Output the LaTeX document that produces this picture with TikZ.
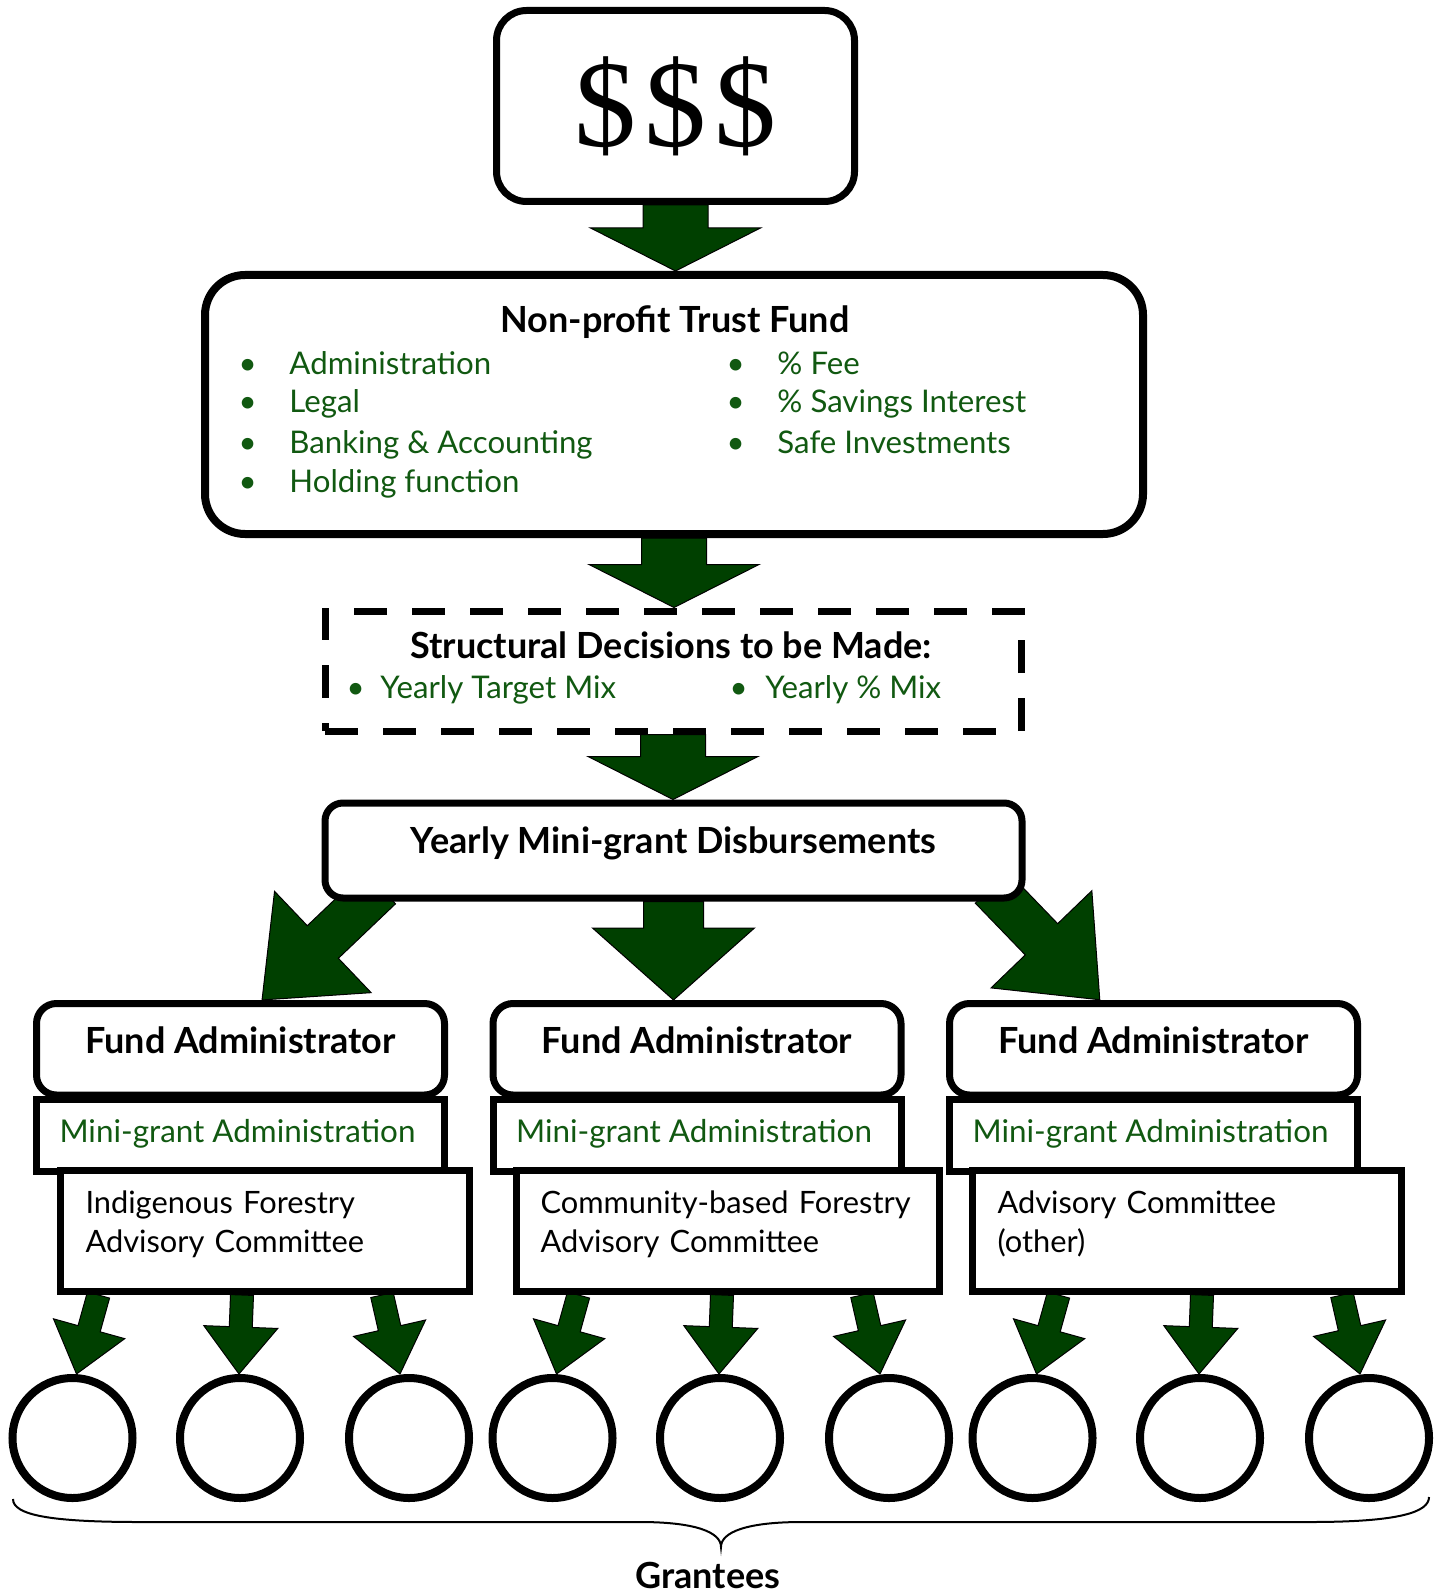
\documentclass[tikz,border=0pt]{standalone}
\usepackage{fontspec}
\setmainfont{Lato}
\newfontfamily\dollarfont{Liberation Serif}
\usepackage{tikz}
\usetikzlibrary{calc,positioning}
\pgfdeclarelayer{edgelayer}
\pgfsetlayers{edgelayer,main}
\definecolor{leafgreen}{RGB}{17,89,17}
\definecolor{arrowgreen}{RGB}{0,64,0}
\tikzset{every picture/.style={line width=3.5pt}}
\tikzstyle{box}=[draw,fill=white,inner sep=0pt]
\tikzstyle{moneybox}=[box,rounded corners=15pt,minimum width=179pt,minimum height=95.5pt]
\tikzstyle{trustbox}=[box,line width=4pt,rounded corners=20pt,minimum width=469pt,minimum height=129.5pt]
\tikzstyle{decisionbox}=[box,dash pattern=on 16.5pt off 12.5pt,minimum width=348pt,minimum height=60pt]
\tikzstyle{yearbox}=[box,rounded corners=9pt,minimum width=348.5pt,minimum height=47.5pt,font=\bfseries\fontsize{18}{21}\selectfont,text height=14pt,text depth=11.5pt]
\tikzstyle{fundbox}=[box,rounded corners=10pt,minimum width=204pt,minimum height=45.75pt,font=\bfseries\fontsize{18}{21}\selectfont,text height=14pt,text depth=10.25pt]
\tikzstyle{minibox}=[box,minimum width=204pt,minimum height=36pt,text=leafgreen,font=\fontsize{15.7}{19.5}\selectfont,text height=12pt,text depth=5pt]
\tikzstyle{advbox}=[box,minimum height=60.5pt]
\tikzstyle{advtext}=[anchor=base west,inner sep=0pt,text width=205pt,align=left,font=\fontsize{15.4}{19.5}\selectfont]
\tikzstyle{titletext}=[anchor=base,inner sep=0pt,font=\bfseries\fontsize{18}{21}\selectfont]
\tikzstyle{listitem}=[anchor=base west,inner sep=0pt,text=leafgreen,font=\fontsize{15.6}{19.5}\selectfont]
\tikzstyle{grantee}=[circle,draw,fill=white,line width=4pt,minimum size=60pt,inner sep=0pt]
% block arrows: shaft width, head width, head length (in pt)
\tikzset{
  shaftw/.store in=\shaftw, headw/.store in=\headw, headl/.store in=\headl,
  onarrow/.style={shift={(\p3)},rotate=\n2},
  blockarrow/.style={draw=black,fill=arrowgreen,line width=0.5pt,line join=miter,
    to path={let \p2=(\tikztotarget), \p3=(\tikztostart),
      \n1={veclen(\x2-\x3,\y2-\y3)}, \n2={atan2(\y2-\y3,\x2-\x3)} in
      ([onarrow]0pt,\shaftw*0.5pt) -- ([onarrow]\n1-\headl*1pt,\shaftw*0.5pt)
      -- ([onarrow]\n1-\headl*1pt,\headw*0.5pt) -- ([onarrow]\n1*1pt,0pt)
      -- ([onarrow]\n1-\headl*1pt,-\headw*0.5pt) -- ([onarrow]\n1-\headl*1pt,-\shaftw*0.5pt)
      -- ([onarrow]0pt,-\shaftw*0.5pt) -- cycle}}
}
\newcommand{\bul}[1]{\makebox[#1][l]{\textbullet}}

\begin{document}
\begin{tikzpicture}[x=0.5pt,y=-0.5pt]
\useasboundingbox (0,0) rectangle (1444,1593);
\node[moneybox] (money) at (675.5,106) {\dollarfont\fontsize{62}{62}\selectfont\$\hspace{4pt}\$\hspace{4pt}\$};
\node[trustbox] (trust) at (674,404.5) {};
\node[titletext] (trusttitle) at (675,333) {Non-profit Trust Fund};
\node[listitem] (l1) at (235,375) {\bul{25.5pt}Administration};
\node[listitem] (l2) at (235,413) {\bul{25.5pt}Legal};
\node[listitem] (l3) at (235,453) {\bul{25.5pt}Banking \& Accounting};
\node[listitem] (l4) at (235,492) {\bul{25.5pt}Holding function};
\node[listitem] (r1) at (723,375) {\bul{25.5pt}\% Fee};
\node[listitem] (r2) at (723,413) {\bul{25.5pt}\% Savings Interest};
\node[listitem] (r3) at (723,453) {\bul{25.5pt}Safe Investments};
\node[decisionbox] (decide) at (673,671) {};
\node[titletext] (decidetitle) at (671,658) {Structural Decisions to be Made:};
\node[listitem] (d1) at (343,698) {\bul{17pt}Yearly Target Mix};
\node[listitem] (d2) at (726,698) {\bul{18pt}Yearly \% Mix};
\node[yearbox] (yearly) at (673.5,850.5) {Yearly Mini-grant Disbursements};
% fund administrators
\node[fundbox] (fund1) at (240.5,1049.25) {Fund Administrator};
\node[fundbox] (fund2) at (697,1049.25) {Fund Administrator};
\node[fundbox] (fund3) at (1153.5,1049.25) {Fund Administrator};
\node[minibox] (mini1) at (240.5,1135) {\hspace{-3pt}Mini-grant Administration};
\node[minibox] (mini2) at (697,1135) {\hspace{-3pt}Mini-grant Administration};
\node[minibox] (mini3) at (1153.5,1135) {\hspace{-3pt}Mini-grant Administration};
\node[advbox,minimum width=204.5pt] (adv1) at (265,1231) {};
\node[advbox,minimum width=211.5pt] (adv2) at (728,1231) {};
\node[advbox,minimum width=214.5pt] (adv3) at (1187,1231) {};
\node[advtext] (adv1t) at (82,1213) {Indigenous Forestry\\Advisory Committee};
\node[advtext] (adv2t) at (537,1213) {Community-based Forestry\\Advisory Committee};
\node[advtext] (adv3t) at (994,1213) {Advisory Committee\\(other)};
% grantees
\node[grantee] (g11) at (72.5,1438) {};
\node[grantee] (g12) at (240,1438) {};
\node[grantee] (g13) at (409,1438) {};
\node[grantee] (g21) at (552.5,1438) {};
\node[grantee] (g22) at (720,1438) {};
\node[grantee] (g23) at (889,1438) {};
\node[grantee] (g31) at (1032.5,1438) {};
\node[grantee] (g32) at (1200,1438) {};
\node[grantee] (g33) at (1369,1438) {};
\coordinate (braceL) at (13,1499);
\coordinate (braceM) at (721,1547);
\coordinate (braceR) at (1429,1497);
\draw[line width=1pt] (braceL) .. controls (13,1515) and (50,1522) .. (140,1522) -- (640,1522)
  .. controls (695,1522) and (721,1532) .. (braceM) .. controls (721,1532) and (747,1522) .. (802,1522)
  -- (1310,1522) .. controls (1400,1522) and (1429,1512) .. (braceR);
\node[titletext] (grantees) at (708,1588) {Grantees};
\begin{pgfonlayer}{edgelayer}
\path[blockarrow,shaftw=32.5,headw=85,headl=21.5]
(money.south) to (money.south |- trust.north)
(trust.south) to (trust.south |- decide.north)
(decide.south) to (decide.south |- yearly.north);
\path[blockarrow,shaftw=30,headw=81,headl=36]
(yearly.south) to (yearly.south |- fund2.north);
\path[blockarrow,shaftw=22.5,headw=70,headl=42]
($(yearly.south west)+(58.5,-14)$) to ($(fund1.north)+(21.5,0)$)
($(yearly.south east)+(-34,-14)$) to ($(fund3.north)+(-53.5,0)$);
\path[blockarrow,shaftw=11.5,headw=37,headl=23.5]
($(adv1.south -| g11.north)+(26,0)$) to ($(g11.north)+(4,0)$)
($(adv1.south -| g12.north)+(2,0)$) to ($(g12.north)+(-1,0)$)
($(adv1.south -| g13.north)+(-27,0)$) to ($(g13.north)+(-9,0)$)
($(adv2.south -| g21.north)+(26,0)$) to ($(g21.north)+(4,0)$)
($(adv2.south -| g22.north)+(2,0)$) to ($(g22.north)+(-1,0)$)
($(adv2.south -| g23.north)+(-27,0)$) to ($(g23.north)+(-9,0)$)
($(adv3.south -| g31.north)+(26,0)$) to ($(g31.north)+(4,0)$)
($(adv3.south -| g32.north)+(2,0)$) to ($(g32.north)+(-1,0)$)
($(adv3.south -| g33.north)+(-27,0)$) to ($(g33.north)+(-9,0)$);
\end{pgfonlayer}
\end{tikzpicture}
\end{document}
